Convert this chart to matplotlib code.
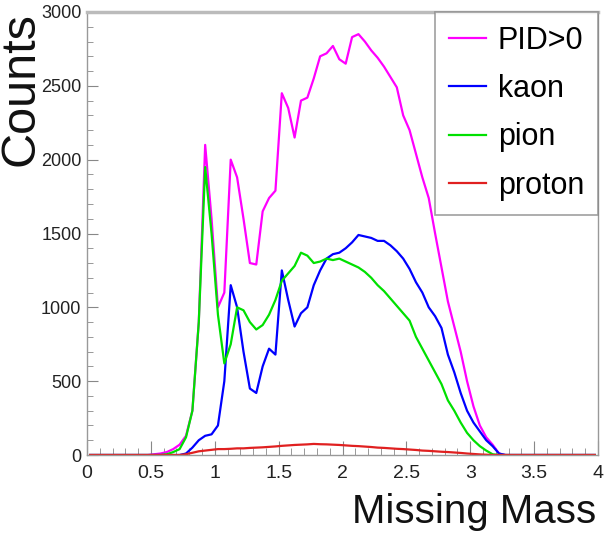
import numpy as np
import matplotlib
matplotlib.use("Agg")
import matplotlib.pyplot as plt
from matplotlib.ticker import MultipleLocator, FormatStrFormatter

# histogram binning: 80 bins of 0.05 between 0 and 4
edges = np.linspace(0, 4, 81)
centers = 0.5*(edges[:-1] + edges[1:])

# counts per bin (bins 0.00-0.05 ... 3.95-4.00)
pid_pos = [0]*10 + [5, 10, 20, 40, 70, 130, 300, 900, 2100, 1600,
           1000, 1100, 2000, 1880, 1600, 1300, 1290, 1650, 1740, 1790,
           2450, 2350, 2150, 2400, 2420, 2550, 2700, 2720, 2770, 2680,
           2650, 2830, 2850, 2800, 2740, 2690, 2630, 2560, 2490, 2300,
           2200, 2040, 1880, 1740, 1500, 1270, 1040, 870, 700, 500,
           330, 200, 120, 70, 10] + [0]*15
kaon = [0]*15 + [10, 50, 100, 130, 140,
        200, 500, 1150, 1000, 700, 450, 420, 600, 720, 680,
        1250, 1050, 870, 960, 1000, 1150, 1250, 1330, 1360, 1370,
        1400, 1440, 1490, 1480, 1470, 1450, 1450, 1420, 1380, 1330,
        1260, 1170, 1100, 1000, 940, 860, 680, 560, 420, 300,
        220, 160, 100, 60, 10] + [0]*15
pion = [0]*12 + [5, 20, 40, 120, 300, 900, 1950, 1500,
        950, 620, 750, 1000, 980, 900, 850, 880, 950, 1050,
        1180, 1230, 1280, 1370, 1350, 1300, 1310, 1330, 1320, 1330,
        1310, 1290, 1270, 1240, 1200, 1150, 1110, 1060, 1010, 960,
        910, 800, 720, 640, 560, 480, 370, 300, 220, 150,
        100, 60, 30, 5] + [0]*16
proton = [0]*15 + [5, 15, 25, 30, 35,
          40, 40, 42, 45, 45, 48, 50, 52, 55, 58,
          62, 65, 68, 70, 72, 75, 73, 72, 70, 68,
          65, 62, 60, 57, 54, 50, 48, 45, 42, 40,
          37, 34, 30, 28, 25, 22, 20, 17, 14, 10,
          7, 4, 2] + [0]*17

labels = ["PID>0", "kaon", "pion", "proton"]
colors = ["#ff00ff", "#0000ff", "#00e000", "#e02020"]

plt.rcParams["font.family"] = ["Liberation Sans", "DejaVu Sans"]

fig = plt.figure(figsize=(6.07, 5.38), dpi=100)
ax = fig.add_axes([87/607, 83/538, 511/607, 443/538])

for vals, lab, col in zip([pid_pos, kaon, pion, proton], labels, colors):
    ax.plot(centers, vals, color=col, lw=1.6, label=lab)

ax.set_xlim(0, 4)
ax.set_ylim(0, 3000)
ax.xaxis.set_major_locator(MultipleLocator(0.5))
ax.xaxis.set_minor_locator(MultipleLocator(0.1))
ax.yaxis.set_major_locator(MultipleLocator(500))
ax.yaxis.set_minor_locator(MultipleLocator(100))
ax.xaxis.set_major_formatter(FormatStrFormatter("%g"))
ax.tick_params(which="both", direction="in", colors="#888888",
               labelcolor="#222222", top=False, right=False, labelsize=14)
ax.tick_params(axis="y", labelsize=13)
ax.tick_params(axis="x", which="major", length=10, pad=7)
ax.tick_params(axis="x", which="minor", length=5)
ax.tick_params(axis="y", which="major", length=8, pad=4)
ax.tick_params(axis="y", which="minor", length=4)
for s in ax.spines.values():
    s.set_color("#999999")
    s.set_linewidth(1)
ax.spines["top"].set_linewidth(2.5)
ax.spines["top"].set_color("#bbbbbb")

fig.text(21/607, 1 - 12/538, "Counts", rotation=90, ha="center", va="top",
         fontsize=35, color="#111111")
fig.text(596/607, 15/538, "Missing Mass", ha="right", va="baseline",
         fontsize=29, color="#111111")

leg = ax.legend(loc="upper right", frameon=True, fancybox=False,
                prop={"size": 22},
                handlelength=1.2, handletextpad=0.4, labelspacing=0.6,
                borderpad=0.45, borderaxespad=0.0)
leg.get_frame().set_edgecolor("#888888")
leg.get_frame().set_linewidth(1.2)

fig.savefig("out.png", dpi=100)
